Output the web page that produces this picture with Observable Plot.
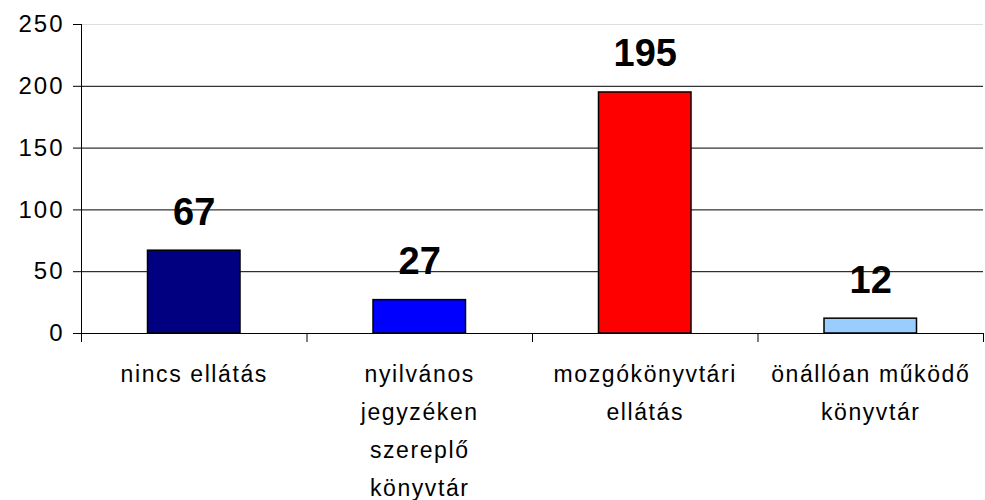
<!DOCTYPE html>
<html><head><meta charset="utf-8">
<script src="https://cdn.jsdelivr.net/npm/d3@7"></script>
<script src="https://cdn.jsdelivr.net/npm/@observablehq/plot@0.6"></script>
<style>
body{margin:0;background:#fff}
#chart svg{letter-spacing:1.6px}
#chart svg g[aria-label="y-axis tick label"]{letter-spacing:2px}
#chart svg g[font-weight="bold"]{letter-spacing:0}
</style>
</head><body><div id="chart"></div>
<script>
const categories = ["nincs ellátás", "nyilvános\njegyzéken\nszereplő\nkönyvtár", "mozgókönyvtári\nellátás", "önállóan működő\nkönyvtár"];
const values = [67, 27, 195, 12];
const colors = ["#000080", "#0000FF", "#FF0000", "#99CCFF"];
const yTicks = [0, 50, 100, 150, 200, 250];
const gridValues = [50, 100, 150, 200];
const topValue = [250];

const data = categories.map((c, i) => ({i, name: c, value: values[i], color: colors[i]}));
const boundaries = d3.range(categories.length + 1);

const chart = Plot.plot({
  width: 985, height: 500,
  marginLeft: 81, marginRight: 2, marginTop: 24, marginBottom: 167,
  style: {fontFamily: "'Liberation Sans', Arial, sans-serif", fontSize: "23px", background: "#fff", color: "#000", overflow: "visible"},
  x: {type: "linear", domain: [0, categories.length]},
  y: {domain: [0, 250]},
  marks: [
    Plot.ruleY(topValue, {stroke: "#dddddd"}),
    Plot.ruleY(gridValues, {stroke: "#000", strokeWidth: 1}),
    Plot.rectY(data, {x1: "i", x2: d => d.i + 1, y: "value", fill: "color", stroke: "#000", strokeWidth: 1.5, insetLeft: 66.5, insetRight: 66.5}),
    Plot.axisY(yTicks, {tickSize: 8, tickPadding: 9, fontSize: 24, label: null, stroke: "#000", fill: "#000"}),
    Plot.axisX(boundaries, {tickSize: 9, tickFormat: () => "", label: null, stroke: "#000"}),
    Plot.ruleX([0], {stroke: "#000"}),
    Plot.ruleY([0], {stroke: "#000"}),
    Plot.text(data, {x: d => d.i + 0.5, y: "value", text: d => String(d.value), fontSize: 38, fontWeight: "bold", lineAnchor: "bottom", dy: -26, fill: "#000"}),
    Plot.text(data, {x: d => d.i + 0.5, frameAnchor: "bottom", text: "name", fontSize: 23, lineAnchor: "top", lineHeight: 1.652, dy: 22, fill: "#000"})
  ]
});
document.getElementById("chart").append(chart);
</script>
</body></html>
